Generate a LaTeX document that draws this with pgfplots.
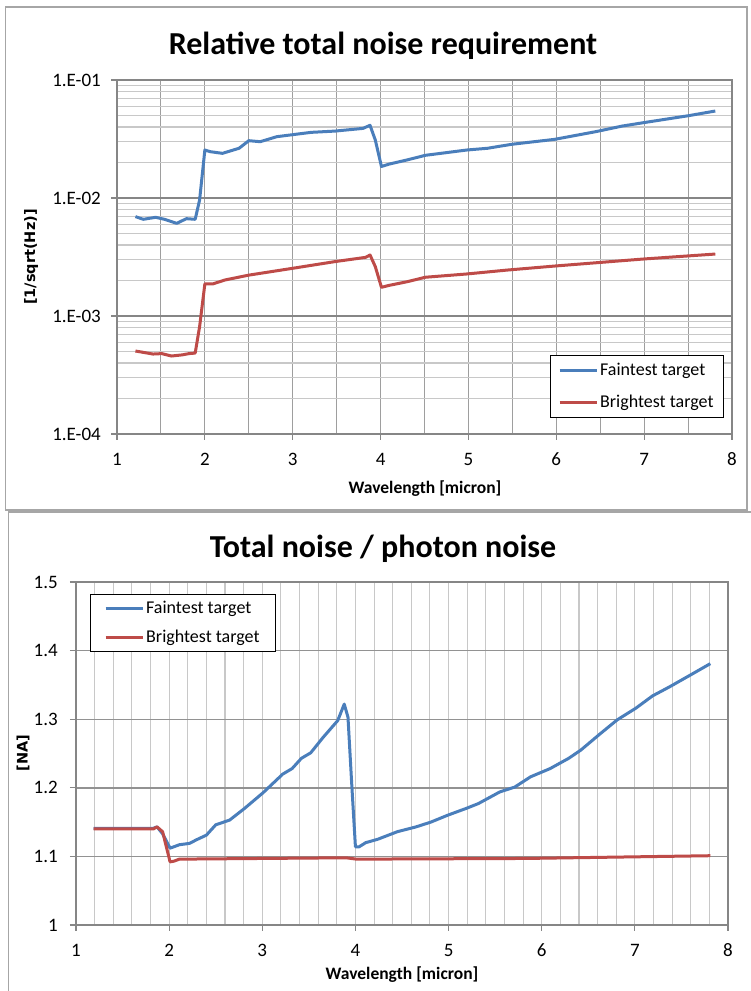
\documentclass[border=0pt]{standalone}
\usepackage{fontspec}
\setmainfont{Carlito}
\newfontfamily\vfont{DejaVu Sans}
\usepackage{pgfplots}
\pgfplotsset{compat=1.18}
\definecolor{xblue}{HTML}{4A7EBB}
\definecolor{xred}{HTML}{BE4B48}
\definecolor{gridmaj}{HTML}{868686}
\definecolor{gridmin}{HTML}{C8C8C8}
\definecolor{frame}{HTML}{A6A6A6}
\tikzset{tl/.style={font=\fontsize{19}{19}\selectfont, inner sep=0pt}}
\begin{document}
\begin{tikzpicture}
\useasboundingbox (0pt,0pt) rectangle (750pt,991pt);
\fill[white] (0pt,0pt) rectangle (750pt,991pt);
\draw[frame, line width=1.5pt] (5.5pt,481pt) rectangle (747pt,984pt);
\draw[frame, line width=1.5pt] (8.5pt,-5pt) rectangle (760pt,479pt);
% ---------------- top chart
\begin{axis}[
  at={(117pt,557pt)}, anchor=south west, scale only axis, clip=false,
  width=615pt, height=354pt,
  ymode=log, xmin=1, xmax=8, ymin=1e-4, ymax=1e-1,
  xtick={1,2,3,4,5,6,7,8}, xticklabels={},
  minor xtick={1.5,2.5,3.5,4.5,5.5,6.5,7.5},
  ytick={1e-4,1e-3,1e-2,1e-1}, yticklabels={},
  minor ytick={2e-4,3e-4,4e-4,5e-4,6e-4,7e-4,8e-4,9e-4,2e-3,3e-3,4e-3,5e-3,6e-3,7e-3,8e-3,9e-3,2e-2,3e-2,4e-2,5e-2,6e-2,7e-2,8e-2,9e-2},
  grid=both,
  major x grid style={gridmaj!80, line width=1.1pt},
  minor x grid style={gridmaj!80, line width=1.1pt},
  major y grid style={gridmaj, line width=1.4pt},
  minor y grid style={gridmin, line width=1.1pt},
  axis line style={gridmaj, line width=1.5pt},
  tick align=outside, xtick pos=bottom, ytick pos=left,
  major tick length=6pt, minor tick length=0pt,
  tick style={gridmaj, line width=1.2pt},
  legend style={at={(0.987,0.223)}, anchor=north east, draw=black, line width=1pt,
    font=\fontsize{18}{18}\selectfont, cells={anchor=west}, row sep=14pt,
    inner xsep=8pt, inner ysep=6pt},
  legend image code/.code={\draw[#1] (0pt,0pt) -- (37pt,0pt);},
  every axis plot/.append style={line width=3pt, line join=round},
]
\addplot[xblue] coordinates {
(1.21,0.00695)(1.30,0.0066)(1.44,0.00686)(1.54,0.0066)(1.68,0.0061)(1.79,0.00668)
(1.89,0.0066)(1.94,0.0096)(2.00,0.0255)(2.06,0.0247)(2.20,0.0239)(2.39,0.0264)
(2.50,0.0306)(2.63,0.0300)(2.82,0.0331)(3.21,0.0360)(3.48,0.0369)(3.80,0.0389)
(3.88,0.0413)(3.94,0.0310)(4.01,0.0185)(4.10,0.0194)(4.30,0.0210)(4.51,0.0230)
(4.98,0.0255)(5.22,0.0264)(5.49,0.0285)(5.98,0.0314)(6.45,0.0365)(6.75,0.0407)
(7.02,0.0438)(7.51,0.0499)(7.81,0.0546)};
\addlegendentry{Faintest target}
\addplot[xred] coordinates {
(1.21,0.000505)(1.41,0.000476)(1.51,0.000480)(1.62,0.000458)(1.74,0.000468)
(1.82,0.000480)(1.89,0.000485)(1.94,0.00081)(2.00,0.00187)(2.09,0.00187)
(2.23,0.00202)(2.50,0.00222)(2.99,0.00253)(3.48,0.00289)(3.83,0.00314)
(3.88,0.00329)(3.94,0.00262)(4.01,0.00175)(4.10,0.00182)(4.30,0.00195)
(4.51,0.00213)(4.98,0.00227)(5.44,0.00245)(5.98,0.00265)(6.99,0.00304)(7.81,0.00335)};
\addlegendentry{Brightest target}
\node[tl, anchor=east, xshift=-16pt] at (axis cs:1,1e-4) {1.E-04};
\node[tl, anchor=east, xshift=-16pt] at (axis cs:1,1e-3) {1.E-03};
\node[tl, anchor=east, xshift=-16pt] at (axis cs:1,1e-2) {1.E-02};
\node[tl, anchor=east, xshift=-16pt] at (axis cs:1,1e-1) {1.E-01};
\node[tl, anchor=base, yshift=-31pt] at (axis cs:1,1e-4) {1};
\node[tl, anchor=base, yshift=-31pt] at (axis cs:2,1e-4) {2};
\node[tl, anchor=base, yshift=-31pt] at (axis cs:3,1e-4) {3};
\node[tl, anchor=base, yshift=-31pt] at (axis cs:4,1e-4) {4};
\node[tl, anchor=base, yshift=-31pt] at (axis cs:5,1e-4) {5};
\node[tl, anchor=base, yshift=-31pt] at (axis cs:6,1e-4) {6};
\node[tl, anchor=base, yshift=-31pt] at (axis cs:7,1e-4) {7};
\node[tl, anchor=base, yshift=-31pt] at (axis cs:8,1e-4) {8};
\end{axis}
\node[font=\fontsize{32}{32}\selectfont\bfseries, anchor=base] at (383pt,936pt) {Relative total noise requirement};
\node[font=\fontsize{17.5}{17.5}\selectfont\bfseries, anchor=base] at (425pt,497pt) {Wavelength [micron]};
\node[font=\fontsize{14.5}{14.5}\selectfont\vfont\bfseries, rotate=90] at (31pt,734pt) {[1/sqrt(Hz)]};
% ---------------- bottom chart
\begin{axis}[
  at={(76pt,66pt)}, anchor=south west, scale only axis, clip=false,
  width=652pt, height=343pt,
  xmin=1, xmax=8, ymin=1, ymax=1.5,
  xtick={1,2,3,4,5,6,7,8}, xticklabels={},
  minor xtick={1.2,1.4,1.6,1.8,2.2,2.4,2.6,2.8,3.2,3.4,3.6,3.8,4.2,4.4,4.6,4.8,5.2,5.4,5.6,5.8,6.2,6.4,6.6,6.8,7.2,7.4,7.6,7.8},
  ytick={1,1.1,1.2,1.3,1.4,1.5}, yticklabels={},
  grid=both,
  major x grid style={gridmin, line width=1.1pt},
  minor x grid style={gridmin, line width=1.1pt},
  major y grid style={gridmaj!90, line width=1.4pt},
  axis line style={gridmaj, line width=1.5pt},
  tick align=outside, xtick pos=bottom, ytick pos=left,
  major tick length=6pt, minor tick length=0pt,
  tick style={gridmaj, line width=1.2pt},
  legend style={at={(0.021,0.965)}, anchor=north west, draw=black, line width=1pt,
    font=\fontsize{18}{18}\selectfont, cells={anchor=west}, row sep=11pt,
    inner xsep=14pt, inner ysep=5pt},
  legend image code/.code={\draw[#1] (0pt,0pt) -- (37pt,0pt);},
  every axis plot/.append style={line width=3pt, line join=round},
]
\addplot[xblue] coordinates {
(1.19,1.141)(1.83,1.141)(1.87,1.143)(1.93,1.133)(2.01,1.112)(2.11,1.117)(2.22,1.119)
(2.29,1.124)(2.40,1.131)(2.50,1.146)(2.65,1.153)(2.81,1.170)(3.01,1.193)(3.22,1.220)
(3.32,1.228)(3.42,1.243)(3.52,1.251)(3.65,1.273)(3.81,1.298)(3.88,1.322)(3.92,1.303)
(3.96,1.206)(4.00,1.114)(4.04,1.114)(4.11,1.120)(4.24,1.125)(4.45,1.136)(4.65,1.143)
(4.81,1.150)(4.99,1.160)(5.19,1.170)(5.32,1.177)(5.55,1.194)(5.71,1.201)(5.88,1.216)
(6.09,1.228)(6.29,1.243)(6.42,1.255)(6.63,1.279)(6.81,1.299)(7.01,1.316)(7.19,1.334)
(7.37,1.347)(7.63,1.367)(7.81,1.381)};
\addlegendentry{Faintest target}
\addplot[xred] coordinates {
(1.19,1.140)(1.83,1.140)(1.87,1.143)(1.93,1.136)(2.01,1.092)(2.05,1.093)(2.11,1.096)
(3.00,1.097)(3.90,1.098)(4.01,1.096)(5.83,1.097)(7.81,1.101)};
\addlegendentry{Brightest target}
\node[tl, anchor=east, xshift=-18pt] at (axis cs:1,1.0) {1};
\node[tl, anchor=east, xshift=-18pt] at (axis cs:1,1.1) {1.1};
\node[tl, anchor=east, xshift=-18pt] at (axis cs:1,1.2) {1.2};
\node[tl, anchor=east, xshift=-18pt] at (axis cs:1,1.3) {1.3};
\node[tl, anchor=east, xshift=-18pt] at (axis cs:1,1.4) {1.4};
\node[tl, anchor=east, xshift=-18pt] at (axis cs:1,1.5) {1.5};
\node[tl, anchor=base, yshift=-31pt] at (axis cs:1,1) {1};
\node[tl, anchor=base, yshift=-31pt] at (axis cs:2,1) {2};
\node[tl, anchor=base, yshift=-31pt] at (axis cs:3,1) {3};
\node[tl, anchor=base, yshift=-31pt] at (axis cs:4,1) {4};
\node[tl, anchor=base, yshift=-31pt] at (axis cs:5,1) {5};
\node[tl, anchor=base, yshift=-31pt] at (axis cs:6,1) {6};
\node[tl, anchor=base, yshift=-31pt] at (axis cs:7,1) {7};
\node[tl, anchor=base, yshift=-31pt] at (axis cs:8,1) {8};
\end{axis}
\node[font=\fontsize{32}{32}\selectfont\bfseries, anchor=base] at (383pt,433pt) {Total noise / photon noise};
\node[font=\fontsize{17.5}{17.5}\selectfont\bfseries, anchor=base] at (402pt,12pt) {Wavelength [micron]};
\node[font=\fontsize{14.5}{14.5}\selectfont\vfont\bfseries, rotate=90] at (23pt,238pt) {[NA]};
\end{tikzpicture}
\end{document}
